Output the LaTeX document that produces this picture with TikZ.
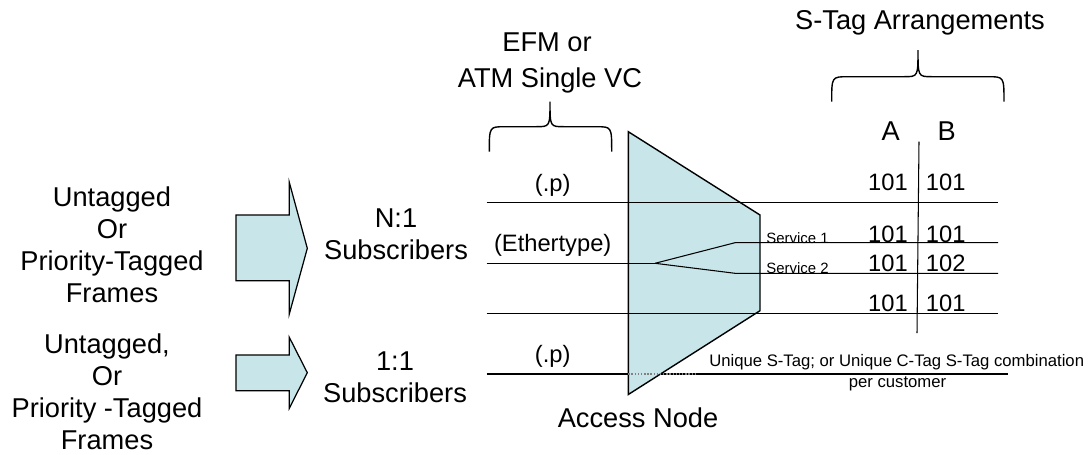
\documentclass[tikz,border=0pt]{standalone}
\usepackage{fontspec}
\setmainfont{Liberation Sans}
\usepackage{tikz}
\usetikzlibrary{positioning}
\definecolor{panel}{RGB}{200,230,234}

\begin{document}
\begin{tikzpicture}[x=0.02cm, y=-0.02cm]
% -------------------------------------------------
\tikzset{
  big/.style={align=center, inner sep=0pt, font=\fontsize{15.5}{18.2}\selectfont},
  mid/.style={inner sep=0pt, font=\fontsize{13.5}{16}\selectfont},
  num/.style={inner sep=0pt, font=\fontsize{13.5}{16}\selectfont},
  small/.style={inner sep=0pt, align=center, font=\fontsize{9.5}{11.5}\selectfont},
  tiny/.style={inner sep=0pt, font=\fontsize{8.5}{10}\selectfont},
  fat/.style={draw, fill=panel, line width=0.7pt},
  line/.style={draw, line width=0.6pt},
  brc/.style={draw, line width=0.8pt}
}
% -------------------------------------------------
\useasboundingbox (0,0) rectangle (1089,454);

% Input frames and subscriber types
\node[big] (in0) at (112,245) {Untagged\\Or\\Priority-Tagged\\Frames};
\node[big] (in1) at (107,392) {Untagged,\\Or\\Priority -Tagged\\Frames};
\node[big] (sub0) at (396,234) {N:1\\Subscribers};
\node[big] (sub1) at (395,377.5) {1:1\\Subscribers};

\path[fat] (236,215) -- (289.3,215) -- (289.3,182.3) -- (307.3,248.3)
  -- (289.3,314) -- (289.3,280.7) -- (236,280.7) -- cycle;
\path[fat] (236,355) -- (289.3,355) -- (289.3,337.3) -- (307.3,372.7)
  -- (289.3,408.3) -- (289.3,390.7) -- (236,390.7) -- cycle;

% Access node
\path[line] (486.7,374) -- (1008,374);
\path[fat, line width=0.8pt] (628.3,131.7) -- (760,215) -- (760,310.7) -- (628.3,394.5) -- cycle;
\draw[gray, densely dotted, line width=0.8pt] (628.3,374) -- (696.7,374);
\node[big] (an) at (638,418) {Access Node};

\path[line] (486.7,202.7) -- (998,202.7);
\path[line] (486.7,313.3) -- (998,313.3);
\path[line] (486.7,263.3) -- (655,263.3);
\path[line] (655,263.3) -- (735,242.7) -- (998,242.7);
\path[line] (655,263.3) -- (735,273.3) -- (998,273.3);

\node[mid] (p0) at (552.7,185) {(.p)};
\node[mid] (eth) at (552.7,245) {(Ethertype)};
\node[mid] (p1) at (552.7,356.7) {(.p)};

\node[tiny, anchor=west] (s1) at (766,238) {Service 1};
\node[tiny, anchor=west] (s2) at (766,268) {Service 2};

\node[small] (uq) at (896.7,362) {Unique S-Tag; or Unique C-Tag S-Tag combination};
\node[small] (pc) at (897.5,384) {per customer};

% Top labels and braces
\node[big] (efm) at (547,42) {EFM or};
\node[big] (atm) at (550,80) {ATM Single VC};
\path[brc] (489.3,151.7) .. controls (489.3,126.7) .. (505,126.7) -- (536,126.7)
  .. controls (550,126.7) .. (550,101.7) .. controls (550,126.7) .. (564,126.7)
  -- (596,126.7) .. controls (611.7,126.7) .. (611.7,151.7);

\node[big] (sta) at (920,23.3) {S-Tag Arrangements};
\path[brc] (831.7,101.7) .. controls (831.7,76.7) .. (848,76.7) -- (904,76.7)
  .. controls (918,76.7) .. (918,50) .. controls (918,76.7) .. (932,76.7)
  -- (988,76.7) .. controls (1004,76.7) .. (1004,101.7);

% S-Tag table
\node[big] (ca) at (890.7,131) {A};
\node[big] (cb) at (946.7,131) {B};
\path[line] (919,141.7) -- (917,333);

\node[num] (a0) at (888,182.7) {101};
\node[num] (b0) at (945.7,182.7) {101};
\node[num] (a1) at (888,234) {101};
\node[num] (b1) at (945.7,234) {101};
\node[num] (a2) at (888,263.3) {101};
\node[num] (b2) at (945.7,263.3) {102};
\node[num] (a3) at (888,303.3) {101};
\node[num] (b3) at (945.7,303.3) {101};

\end{tikzpicture}
\end{document}
